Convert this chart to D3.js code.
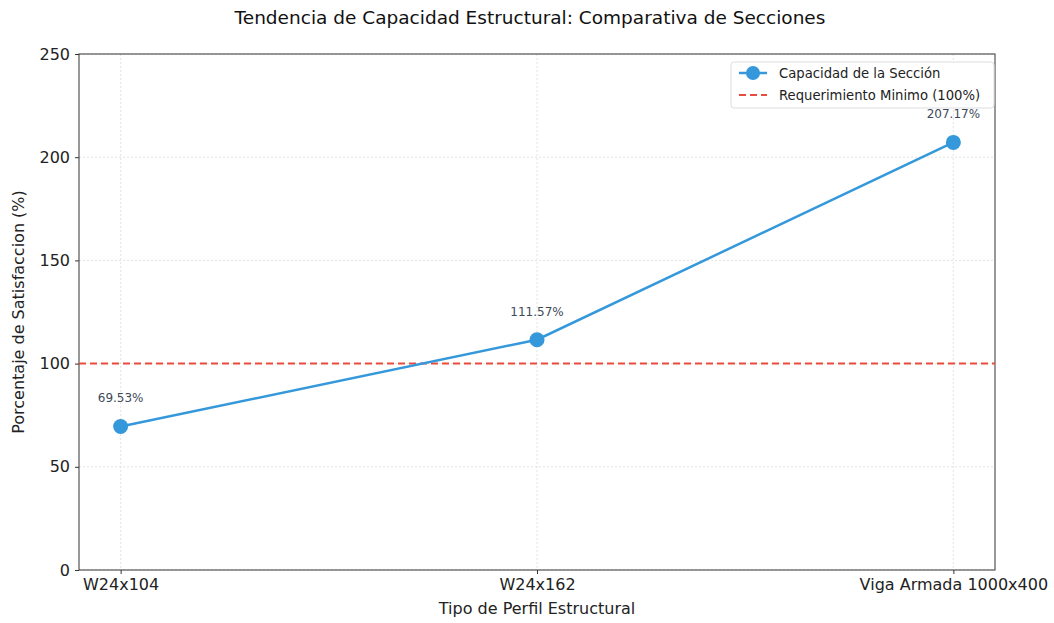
<!DOCTYPE html>
<html><head><meta charset="utf-8">
<script src="https://cdn.jsdelivr.net/npm/d3@7"></script>
<style>body{margin:0;background:#fff}svg{display:block}text{font-family:"DejaVu Sans",sans-serif}</style>
</head><body><svg id="c" width="1054" height="623"></svg>
<script>
const categories = ["W24x104", "W24x162", "Viga Armada 1000x400"];
const capacity = [69.53, 111.57, 207.17];
const requirement = 100;
const yTicks = [0, 50, 100, 150, 200, 250];
const title = "Tendencia de Capacidad Estructural: Comparativa de Secciones";
const xLabel = "Tipo de Perfil Estructural";
const yLabel = "Porcentaje de Satisfaccion (%)";
const legendLabels = ["Capacidad de la Sección", "Requerimiento Minimo (100%)"];

const svg = d3.select("#c");
const m = {l:79, r:995, t:54, b:570};
const x = d3.scaleLinear().domain([-0.1, 2.1]).range([m.l, m.r]);
const y = d3.scaleLinear().domain([0, 250]).range([m.b, m.t]);
const blue = "#3498db", red = "#e74c3c";

// grid
svg.append("g").selectAll("line").data(yTicks).join("line")
  .attr("x1", m.l).attr("x2", m.r).attr("y1", d=>y(d)).attr("y2", d=>y(d))
  .attr("stroke", "#dcdcdc").attr("stroke-width", 0.8).attr("stroke-dasharray", "2,2");
svg.append("g").selectAll("line").data(categories).join("line")
  .attr("y1", m.t).attr("y2", m.b).attr("x1", (d,i)=>x(i)).attr("x2", (d,i)=>x(i))
  .attr("stroke", "#dcdcdc").attr("stroke-width", 0.8).attr("stroke-dasharray", "2,2");

// axes
const ya = d3.axisLeft(y).tickValues(yTicks).tickSize(4).tickPadding(5);
const gy = svg.append("g").attr("transform", `translate(${m.l},0)`).call(ya);
const xa = d3.axisBottom(x).tickValues([0,1,2]).tickFormat(i=>categories[i]).tickSize(4).tickPadding(5);
const gx = svg.append("g").attr("transform", `translate(0,${m.b})`).call(xa);
[gy, gx].forEach(g=>{
  g.select(".domain").remove();
  g.selectAll("text").attr("font-size", 16).attr("fill", "#222");
  g.selectAll(".tick line").attr("stroke", "#333");
});
svg.append("rect").attr("x", m.l).attr("y", m.t).attr("width", m.r-m.l).attr("height", m.b-m.t)
  .attr("fill", "none").attr("stroke", "#333").attr("stroke-width", 1);

// requirement line
svg.append("line").attr("x1", m.l).attr("x2", m.r).attr("y1", y(requirement)).attr("y2", y(requirement))
  .attr("stroke", red).attr("stroke-width", 2).attr("stroke-dasharray", "7,4");

// data line
svg.append("path").datum(capacity)
  .attr("d", d3.line().x((d,i)=>x(i)).y(d=>y(d)))
  .attr("fill", "none").attr("stroke", blue).attr("stroke-width", 2.5);
svg.append("g").selectAll("circle").data(capacity).join("circle")
  .attr("cx", (d,i)=>x(i)).attr("cy", d=>y(d)).attr("r", 7.5).attr("fill", blue);
svg.append("g").selectAll("text").data(capacity).join("text")
  .attr("x", (d,i)=>x(i)).attr("y", d=>y(d)-24).attr("text-anchor", "middle")
  .attr("font-size", 12).attr("fill", "#3d4a5a").text(d=>d.toFixed(2)+"%");

// legend
const lg = svg.append("g").attr("transform", "translate(731,62)");
lg.append("rect").attr("width", 263).attr("height", 46).attr("rx", 3)
  .attr("fill", "#fff").attr("fill-opacity", 0.85).attr("stroke", "#ddd");
lg.append("line").attr("x1", 8).attr("x2", 36).attr("y1", 11).attr("y2", 11).attr("stroke", blue).attr("stroke-width", 2.5);
lg.append("circle").attr("cx", 22).attr("cy", 11).attr("r", 7).attr("fill", blue);
lg.append("line").attr("x1", 8).attr("x2", 36).attr("y1", 33).attr("y2", 33).attr("stroke", red).attr("stroke-width", 2).attr("stroke-dasharray", "7,4");
lg.selectAll("text.l").data(legendLabels).join("text").attr("class","l")
  .attr("x", 48).attr("y", (d,i)=>16+i*22).attr("font-size", 13.2).attr("fill", "#222").text(d=>d);

// titles
svg.append("text").attr("x", 530).attr("y", 24).attr("text-anchor", "middle")
  .attr("font-size", 18.5).attr("fill", "#111").text(title);
svg.append("text").attr("x", (m.l+m.r)/2).attr("y", 614).attr("text-anchor", "middle")
  .attr("font-size", 16).attr("fill", "#222").text(xLabel);
svg.append("text").attr("transform", `translate(24,${(m.t+m.b)/2}) rotate(-90)`).attr("text-anchor", "middle")
  .attr("font-size", 16).attr("fill", "#222").text(yLabel);
</script></body></html>
